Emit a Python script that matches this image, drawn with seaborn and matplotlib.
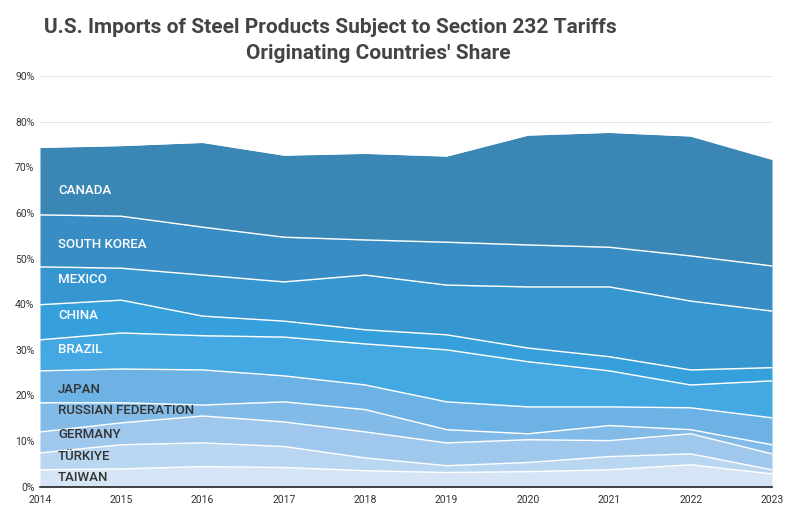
import matplotlib
matplotlib.use("Agg")
import matplotlib.pyplot as plt
import seaborn as sns
import numpy as np

years = [2014, 2015, 2016, 2017, 2018, 2019, 2020, 2021, 2022, 2023]
# cumulative upper edge (%) of each country's band, bottom to top
countries = ["TAIWAN", "TÜRKIYE", "GERMANY", "RUSSIAN FEDERATION", "JAPAN",
             "BRAZIL", "CHINA", "MEXICO", "SOUTH KOREA", "CANADA"]
taiwan  = [3.7, 3.9, 4.4, 4.2, 3.5, 3.1, 3.3, 3.7, 4.8, 2.8]
turkiye = [7.4, 9.2, 9.6, 8.8, 6.3, 4.6, 5.3, 6.6, 7.2, 3.7]
germany = [12.0, 14.0, 15.5, 14.2, 12.0, 9.6, 10.3, 10.1, 11.6, 7.2]
russia  = [18.4, 18.4, 17.9, 18.6, 16.9, 12.5, 11.6, 13.4, 12.5, 9.2]
japan   = [25.4, 25.8, 25.6, 24.3, 22.3, 18.6, 17.5, 17.5, 17.3, 15.1]
brazil  = [32.2, 33.7, 33.1, 32.8, 31.3, 30.0, 27.4, 25.4, 22.3, 23.2]
china   = [39.9, 40.9, 37.4, 36.3, 34.4, 33.3, 30.4, 28.5, 25.6, 26.1]
mexico  = [48.2, 47.9, 46.4, 44.9, 46.4, 44.2, 43.8, 43.8, 40.7, 38.5]
korea   = [59.6, 59.3, 56.9, 54.7, 54.1, 53.6, 53.0, 52.5, 50.6, 48.4]
canada  = [74.4, 74.8, 75.5, 72.7, 73.1, 72.5, 77.1, 77.7, 76.9, 71.8]
levels = [taiwan, turkiye, germany, russia, japan, brazil, china, mexico, korea, canada]
label_y = [2.0, 6.6, 11.5, 16.7, 21.2, 30.0, 37.6, 45.5, 53.2, 65.0]

colors = ["#d5e5f5", "#bad7f1", "#9fc8ec", "#82bbe7", "#6cb2e4",
          "#44a8e2", "#36a0dc", "#3596d0", "#388dc4", "#3a86b5"]
text_colors = ["#333333"] * 5 + ["white"] * 5

sns.set_theme(style="whitegrid")
plt.rcParams['font.family'] = ['Roboto', 'DejaVu Sans']
fig, ax = plt.subplots(figsize=(8, 5.15), dpi=100)
fig.subplots_adjust(left=0.05, right=0.965, top=0.852, bottom=0.055)

prev = np.zeros(len(years))
for name, lev, c in zip(countries, levels, colors):
    lev = np.array(lev)
    ax.fill_between(years, prev, lev, color=c, linewidth=0, zorder=2)
    sns.lineplot(x=years, y=lev, color="white", linewidth=1.0, ax=ax, zorder=3)
    prev = lev

for name, ly, tc in zip(countries, label_y, text_colors):
    ax.text(2014.22, ly, name, color=tc, fontsize=9.5, fontweight="medium",
            va="center", zorder=4)

ax.set_xlim(2014, 2023)
ax.set_ylim(0, 90)
ax.set_xticks(years)
ax.set_xticklabels([str(y) for y in years], fontsize=7.5, color="#333333")
ax.set_yticks(range(0, 91, 10))
ax.set_yticklabels([f"{v}%" for v in range(0, 91, 10)], fontsize=7.5, color="#333333")
ax.grid(axis="x", visible=False)
ax.grid(axis="y", color="#e6e6e6", linewidth=0.8)
for s in ["top", "right", "left"]:
    ax.spines[s].set_visible(False)
ax.spines["bottom"].set_color("#222222")
ax.spines["bottom"].set_linewidth(1.2)
ax.spines["bottom"].set_zorder(5)
ax.tick_params(axis="x", length=0, pad=6)
ax.tick_params(axis="y", length=0, pad=4)
ax.set_xlabel("")
ax.set_ylabel("")

fig.text(0.413, 0.965, "U.S. Imports of Steel Products Subject to Section 232 Tariffs",
         ha="center", va="top", fontsize=15, fontweight="bold", color="#444444")
fig.text(0.473, 0.915, "Originating Countries' Share",
         ha="center", va="top", fontsize=15, fontweight="bold", color="#444444")

fig.savefig("out.png", dpi=100)
